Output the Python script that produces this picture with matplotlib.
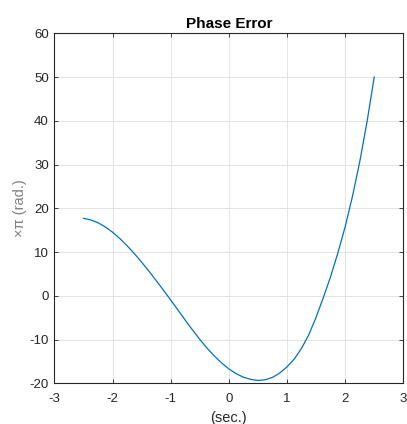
import numpy as np
import matplotlib.pyplot as plt

# time axis (sec.) and phase error (x pi rad.)
t_sec = [-2.5, -2.375, -2.25, -2.125, -2.0, -1.875, -1.75, -1.625, -1.5, -1.375,
         -1.25, -1.125, -1.0, -0.875, -0.75, -0.625, -0.5, -0.375, -0.25, -0.125,
         0.0, 0.125, 0.25, 0.375, 0.5, 0.625, 0.75, 0.875, 1.0, 1.125,
         1.25, 1.375, 1.5, 1.625, 1.75, 1.875, 2.0, 2.125, 2.25, 2.375, 2.5]
phase_err = [17.7, 17.35, 16.7, 15.75, 14.55, 13.1, 11.45, 9.65, 7.7, 5.65,
             3.5, 1.3, -0.95, -3.25, -5.55, -7.8, -9.95, -11.95, -13.75, -15.35,
             -16.7, -17.8, -18.6, -19.1, -19.35, -19.2, -18.65, -17.65, -16.25, -14.45,
             -12.0, -8.9, -4.9, -0.4, 4.4, 9.8, 15.8, 22.7, 30.6, 39.7, 50.0]

xticks = [-3, -2, -1, 0, 1, 2, 3]
yticks = [-20, -10, 0, 10, 20, 30, 40, 50, 60]

plt.rcParams['font.family'] = ['Liberation Sans', 'DejaVu Sans']
plt.rcParams['axes.unicode_minus'] = False

fig = plt.figure(figsize=(4.07, 4.24), dpi=100)
ax = fig.add_axes([0.1335, 0.096, 0.8575, 0.8255])

ax.plot(t_sec, phase_err, color='#0072BD', lw=0.9)

ax.set_xlim(-3, 3)
ax.set_ylim(-20, 60)
ax.set_xticks(xticks)
ax.set_yticks(yticks)
ax.grid(True, color='#e3e3e3', lw=0.7)
ax.set_axisbelow(True)

for s in ax.spines.values():
    s.set_color('#262626')
    s.set_linewidth(0.8)
ax.tick_params(direction='in', top=True, right=True, length=3, width=0.6,
               colors='#262626', labelsize=9.5)
ax.tick_params(axis='x', pad=7)
ax.tick_params(axis='y', pad=4)

ax.set_title('Phase Error', fontsize=11, fontweight='bold', color='black', pad=4)
ax.set_xlabel('(sec.)', fontsize=10.5, color='#262626', labelpad=4)
ax.set_ylabel('\u00d7\u03c0 (rad.)', fontsize=10.5, color='#808080', labelpad=2)

fig.savefig('out.png', dpi=100, facecolor='white')
